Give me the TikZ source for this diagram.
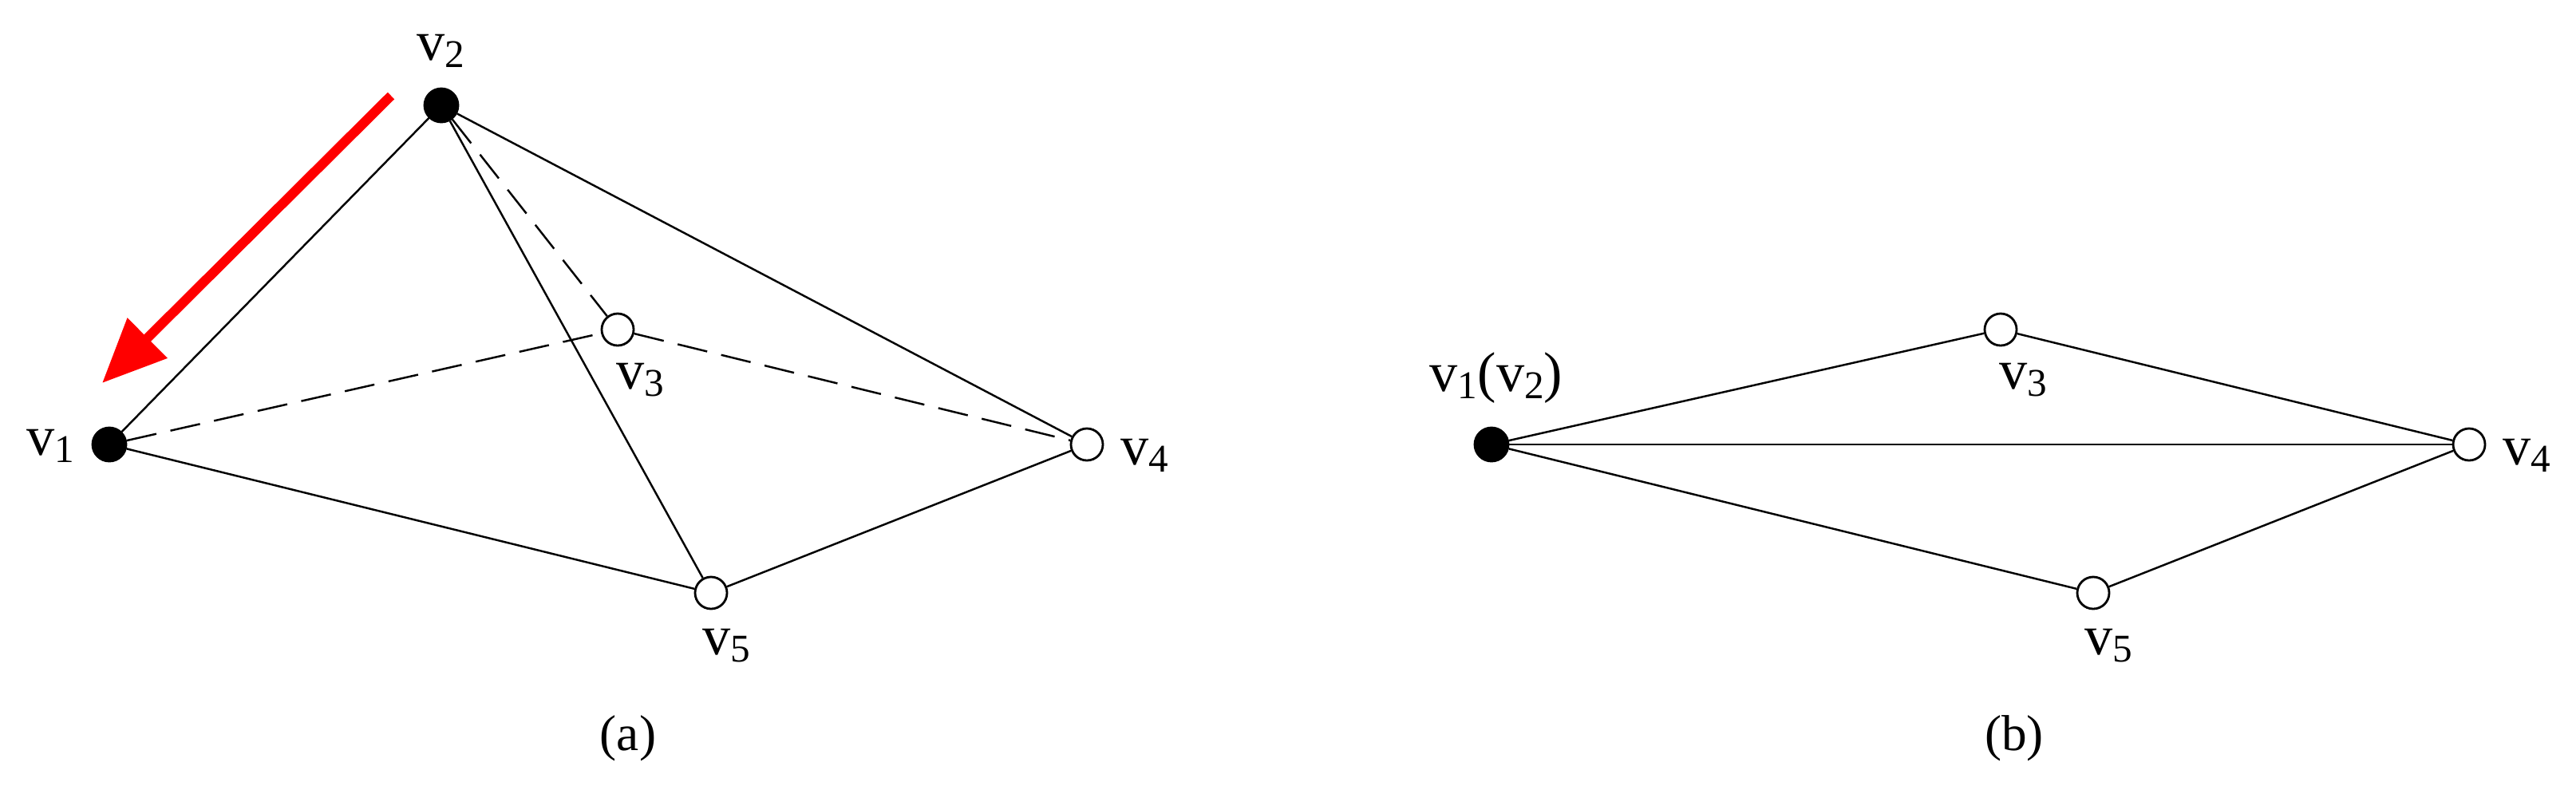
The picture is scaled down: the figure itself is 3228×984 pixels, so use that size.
\documentclass[tikz,border=0pt]{standalone}
\usepackage{fontspec}
\setmainfont{Liberation Serif}
\usetikzlibrary{arrows.meta}
\newcommand{\vsub}[1]{v\raisebox{-2.8pt}{\fontsize{14}{14}\selectfont #1}}
\begin{document}
\begin{tikzpicture}[x=0.01cm,y=-0.01cm,
 edge/.style={line width=0.7pt, black},
 dashedge/.style={edge, dash pattern=on 0.38cm off 0.18cm},
 blackv/.style={circle, fill=black, draw=black, line width=0.8pt, minimum size=0.42cm, inner sep=0pt},
 whitev/.style={circle, fill=white, draw=black, line width=0.8pt, minimum size=0.40cm, inner sep=0pt},
 lab/.style={anchor=base, inner sep=0pt, font=\fontsize{20}{24}\selectfont},
 captxt/.style={anchor=base, inner sep=0pt, font=\fontsize{18}{22}\selectfont}]
\useasboundingbox (0,0) rectangle (3228,984);
% (a)
\node[blackv] (a1) at (137,557) {};
\node[blackv] (a2) at (553,132) {};
\node[whitev] (a3) at (774,413) {};
\node[whitev] (a4) at (1362,557) {};
\node[whitev] (a5) at (891,743) {};
\draw[edge] (a2) -- (a1);
\draw[edge] (a2) -- (a4);
\draw[edge] (a2) -- (a5);
\draw[edge] (a1) -- (a5);
\draw[edge] (a5) -- (a4);
\draw[dashedge] (a2) -- (a3);
\draw[dashedge] (a1) -- (a3);
\draw[dashedge] (a3) -- (a4);
\node[lab] (la1) at (63,570) {\vsub{1}};
\node[lab] (la2) at (552,75) {\vsub{2}};
\node[lab] (la3) at (802,487) {\vsub{3}};
\node[lab] (la4) at (1434,582) {\vsub{4}};
\node[lab] (la5) at (910,820) {\vsub{5}};
\coordinate (rs) at (490,120);
\coordinate (re) at (128,480);
\draw[red, line width=0.12cm, -{Triangle[length=0.8cm,width=0.68cm]}] (rs) -- (re);
\node[captxt] (capa) at (787,940) {(a)};
% (b)
\node[blackv] (b1) at (1869,557) {};
\node[whitev] (b3) at (2507,413) {};
\node[whitev] (b4) at (3094,557) {};
\node[whitev] (b5) at (2623,743) {};
\draw[edge] (b1) -- (b3);
\draw[edge] (b3) -- (b4);
\draw[edge] (b1) -- (b4);
\draw[edge] (b1) -- (b5);
\draw[edge] (b5) -- (b4);
\node[lab] (lb1) at (1875,490) {\vsub{1}(\vsub{2})};
\node[lab] (lb3) at (2535,487) {\vsub{3}};
\node[lab] (lb4) at (3166,582) {\vsub{4}};
\node[lab] (lb5) at (2642,820) {\vsub{5}};
\node[captxt] (capb) at (2524,940) {(b)};
\end{tikzpicture}
\end{document}
